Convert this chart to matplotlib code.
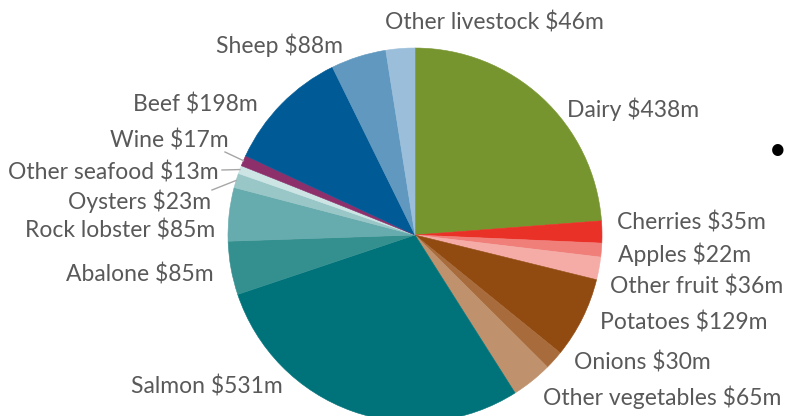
import numpy as np
import matplotlib
matplotlib.use("Agg")
import matplotlib.pyplot as plt

plt.rcParams['font.family'] = ['Lato', 'DejaVu Sans']

# data, clockwise from 12 o'clock
categories = ["Dairy", "Cherries", "Apples", "Other fruit", "Potatoes", "Onions",
              "Other vegetables", "Salmon", "Abalone", "Rock lobster", "Oysters",
              "Other seafood", "Wine", "Beef", "Sheep", "Other livestock"]
values = [438, 35, 22, 36, 129, 30, 65, 531, 85, 85, 23, 13, 17, 198, 88, 46]
colors = ["#77952f", "#ea3127", "#f07f79", "#f5aca7", "#914a10", "#a86b3b",
          "#bf916c", "#00737a", "#34908f", "#66abad", "#99c7c8", "#cce4e4",
          "#8c2f6b", "#005a96", "#6198bf", "#9bbfda"]

# label anchor (pixel coords in the 786x416 image, left x / centre y)
label_pos = [(567, 109), (617, 223), (618, 254), (610, 287), (600, 323), (574, 363),
             (543, 397), (131, 386), (66, 274), (25, 231), (68, 201),
             (8, 173), (110, 140), (133, 104), (216, 45), (385, 23)]
# labels that get a leader line: index -> text end point (pixels)
leaders = {10: (212, 190), 11: (222, 170), 12: (225, 152)}

W, H = 786, 416
cx, cy, R = 415, 235, 187


def to_data(px, py):
    return (px - cx) / R, (cy - py) / R


fig = plt.figure(figsize=(W / 100, H / 100), dpi=100)
ax = fig.add_axes([0, 0, 1, 1])

wedges, _ = ax.pie(values, colors=colors, startangle=90, counterclock=False,
                   radius=1, center=(0, 0))
for w in wedges:
    w.set_edgecolor(w.get_facecolor())
    w.set_linewidth(0.4)

ax.set_xlim(-cx / R, (W - cx) / R)
ax.set_ylim(-(H - cy) / R, cy / R)
ax.set_aspect("auto")
ax.axis("off")

for i, (name, v) in enumerate(zip(categories, values)):
    x, y = to_data(*label_pos[i])
    ax.text(x, y, "%s $%dm" % (name, v), ha="left", va="center",
            fontsize=16.5, color="#595959")

for i, (lx, ly) in leaders.items():
    w = wedges[i]
    mid = np.deg2rad((w.theta1 + w.theta2) / 2)
    ex, ey = np.cos(mid), np.sin(mid)
    tx, ty = to_data(lx, ly)
    ax.plot([tx, ex], [ty, ey], color="#a6a6a6", lw=1)

# stray bullet at the right edge of the slide
bx, by = to_data(787, 150)
ax.text(bx, by, "\u2022", ha="right", va="center", fontsize=22, color="#000000")

fig.savefig("out.png", dpi=100)
